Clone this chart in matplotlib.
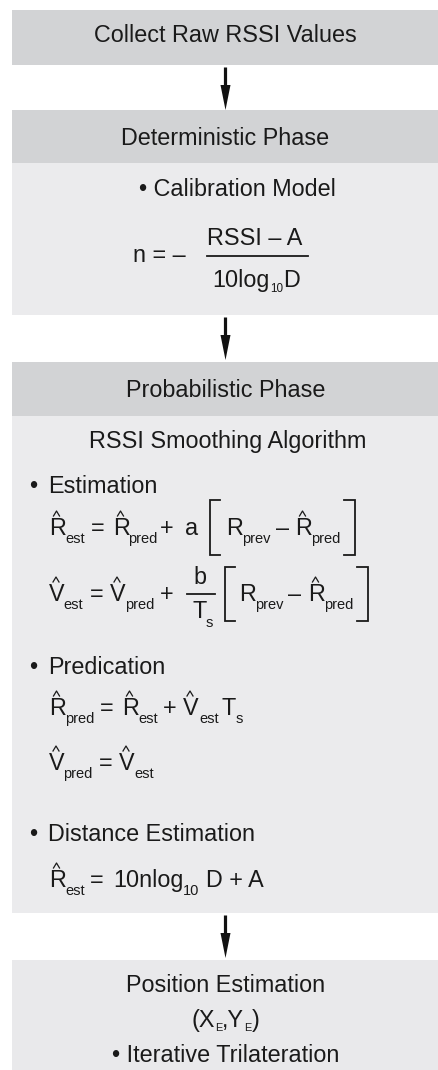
import matplotlib
matplotlib.use("Agg")
import matplotlib.pyplot as plt
from matplotlib.patches import Rectangle, Polygon
from matplotlib.lines import Line2D

plt.rcParams['font.family'] = ['Liberation Sans', 'DejaVu Sans']

W, H = 439, 1070
fig = plt.figure(figsize=(W / 100, H / 100), dpi=100)
ax = fig.add_axes([0, 0, 1, 1])
ax.set_xlim(0, W)
ax.set_ylim(H, 0)
ax.axis('off')
renderer = fig.canvas.get_renderer()

HEAD = '#d2d3d5'
BODY = '#ebebed'
TXT = '#1a1a1a'
MAIN = 16.8
SUB = 10.5

# ---- content ----
box_titles = ["Collect Raw RSSI Values", "Deterministic Phase",
              "Probabilistic Phase", "Position Estimation"]
calib_label = "Calibration Model"
smoothing_label = "RSSI Smoothing Algorithm"
bullets = ["Estimation", "Predication", "Distance Estimation"]
final_label = "Iterative Trilateration"

# ---- boxes ----
L, R = 12, 439
rects = [
    (10, 65, HEAD),
    (110, 163, HEAD), (163, 315, BODY),
    (362, 416, HEAD), (416, 913, BODY),
    (960, 1070, '#e9e9eb'),
]
for y0, y1, c in rects:
    ax.add_patch(Rectangle((L, y0), R - L, y1 - y0, facecolor=c, edgecolor='none'))

# ---- arrows ----
def arrow(y0, y1, x=225.5):
    ax.add_line(Line2D([x, x], [y0, y1 - 22], color='#111111', lw=2.3,
                       solid_capstyle='butt'))
    ax.add_patch(Polygon([[x - 5, y1 - 25], [x + 5, y1 - 25], [x, y1]],
                         closed=True, facecolor='#111111', edgecolor='none'))

arrow(67, 110)
arrow(317, 360)
arrow(915, 958)

def t(x, y, s, size=MAIN, ha='left', **kw):
    return ax.text(x, y, s, fontsize=size, ha=ha, va='baseline', color=TXT, **kw)

def width(s, size):
    tmp = ax.text(0, 0, s, fontsize=size)
    w = tmp.get_window_extent(renderer).width
    tmp.remove()
    return w

def chain(x, yb, parts, center=False):
    """parts: (text, size, dy, gap_after)"""
    widths = [width(s, sz) for s, sz, dy, g in parts]
    total = sum(widths) + sum(g for *_, g in parts[:-1])
    if center:
        x = x - total / 2
    for (s, sz, dy, g), w in zip(parts, widths):
        t(x, yb + dy, s, size=sz)
        x += w + g

def hat(x_left, y_base, w=15):
    cx = x_left + w / 2
    top = y_base - 18
    ax.add_line(Line2D([cx - 3, cx, cx + 3], [top - 1, top - 6, top - 1],
                       color=TXT, lw=0.9))

# ---- headings ----
CX = 225.5
t(CX, 42, box_titles[0], ha='center')
t(CX, 145, box_titles[1], ha='center')
t(CX, 397, box_titles[2], ha='center')
t(CX, 992, box_titles[3], ha='center')

# Calibration
t(CX + 12, 196, "\u2022 " + calib_label, ha='center')
t(133, 262, "n = \u2013")
t(255, 245, "RSSI \u2013 A", ha='center')
ax.add_line(Line2D([207, 308], [256, 256], color=TXT, lw=1.3))
chain(256, 287, [("10log", MAIN, 0, 0), ("10", SUB * 0.8, 5, 0), ("D", MAIN, 0, 0)],
      center=True)

# Smoothing
t(CX + 2, 448, smoothing_label, ha='center')

BX, TX = 29, 48
for lab, yb in zip(bullets, [493, 674, 841]):
    t(BX, yb, "\u2022")
    t(TX, yb, lab)

def eq(yb, tokens, sub_dy=8):
    for x, s, kind in tokens:
        if kind == 's':
            t(x, yb + sub_dy, s, size=SUB)
        else:
            t(x, yb, s)
            if kind == 'h':
                hat(x, yb, 15 if s == 'R' else 14)

def bracket(x, y0, y1, side):
    d = 10 if side == 'l' else -11
    ax.add_line(Line2D([x + d, x, x, x + d], [y0, y0, y1, y1],
                       color=TXT, lw=1.3, solid_joinstyle='miter'))

# Eq 1
eq(535, [(49, 'R', 'h'), (65, 'est', 's'), (91, '=', 'm'),
         (113, 'R', 'h'), (128, 'pred', 's'), (160, '+', 'm'),
         (185, 'a', 'm'), (226, 'R', 'm'), (242, 'prev', 's'),
         (276, '\u2013', 'm'), (295, 'R', 'h'), (311, 'pred', 's')])
bracket(210, 500, 555, 'l')
bracket(355, 500, 555, 'r')

# Eq 2
eq(601, [(49, 'V', 'h'), (63, 'est', 's'), (90, '=', 'm'),
         (110, 'V', 'h'), (125, 'pred', 's'), (160, '+', 'm'),
         (239, 'R', 'm'), (255, 'prev', 's'),
         (288, '\u2013', 'm'), (308, 'R', 'h'), (324, 'pred', 's')])
t(200, 584, 'b', ha='center')
ax.add_line(Line2D([187, 215], [594, 594], color=TXT, lw=1.3))
t(193, 618, 'T')
t(206, 627, 's', size=SUB)
bracket(225, 567, 621, 'l')
bracket(368, 567, 621, 'r')

# Eq 3
eq(715, [(49, 'R', 'h'), (65, 'pred', 's'), (100, '=', 'm'),
         (122, 'R', 'h'), (138, 'est', 's'), (163, '+', 'm'),
         (183, 'V', 'h'), (199, 'est', 's'), (222, 'T', 'm'),
         (236, 's', 's')])

# Eq 4
eq(770, [(49, 'V', 'h'), (63, 'pred', 's'), (99, '=', 'm'),
         (119, 'V', 'h'), (134, 'est', 's')])

# Eq 5
eq(887, [(49, 'R', 'h'), (65, 'est', 's'), (90, '=', 'm')])
chain(113, 887, [("10nlog", MAIN, 0, 0), ("10", SUB, 8, 6), ("D + A", MAIN, 0, 0)])

# Position
chain(CX, 1027, [("(X", MAIN, 0, 0), ("E", SUB * 0.75, 4, 0), (",Y", MAIN, 0, 0),
                 ("E", SUB * 0.75, 4, 0), (")", MAIN, 0, 0)], center=True)
t(CX, 1062, "\u2022 " + final_label, ha='center')

fig.savefig('out.png', dpi=100)
